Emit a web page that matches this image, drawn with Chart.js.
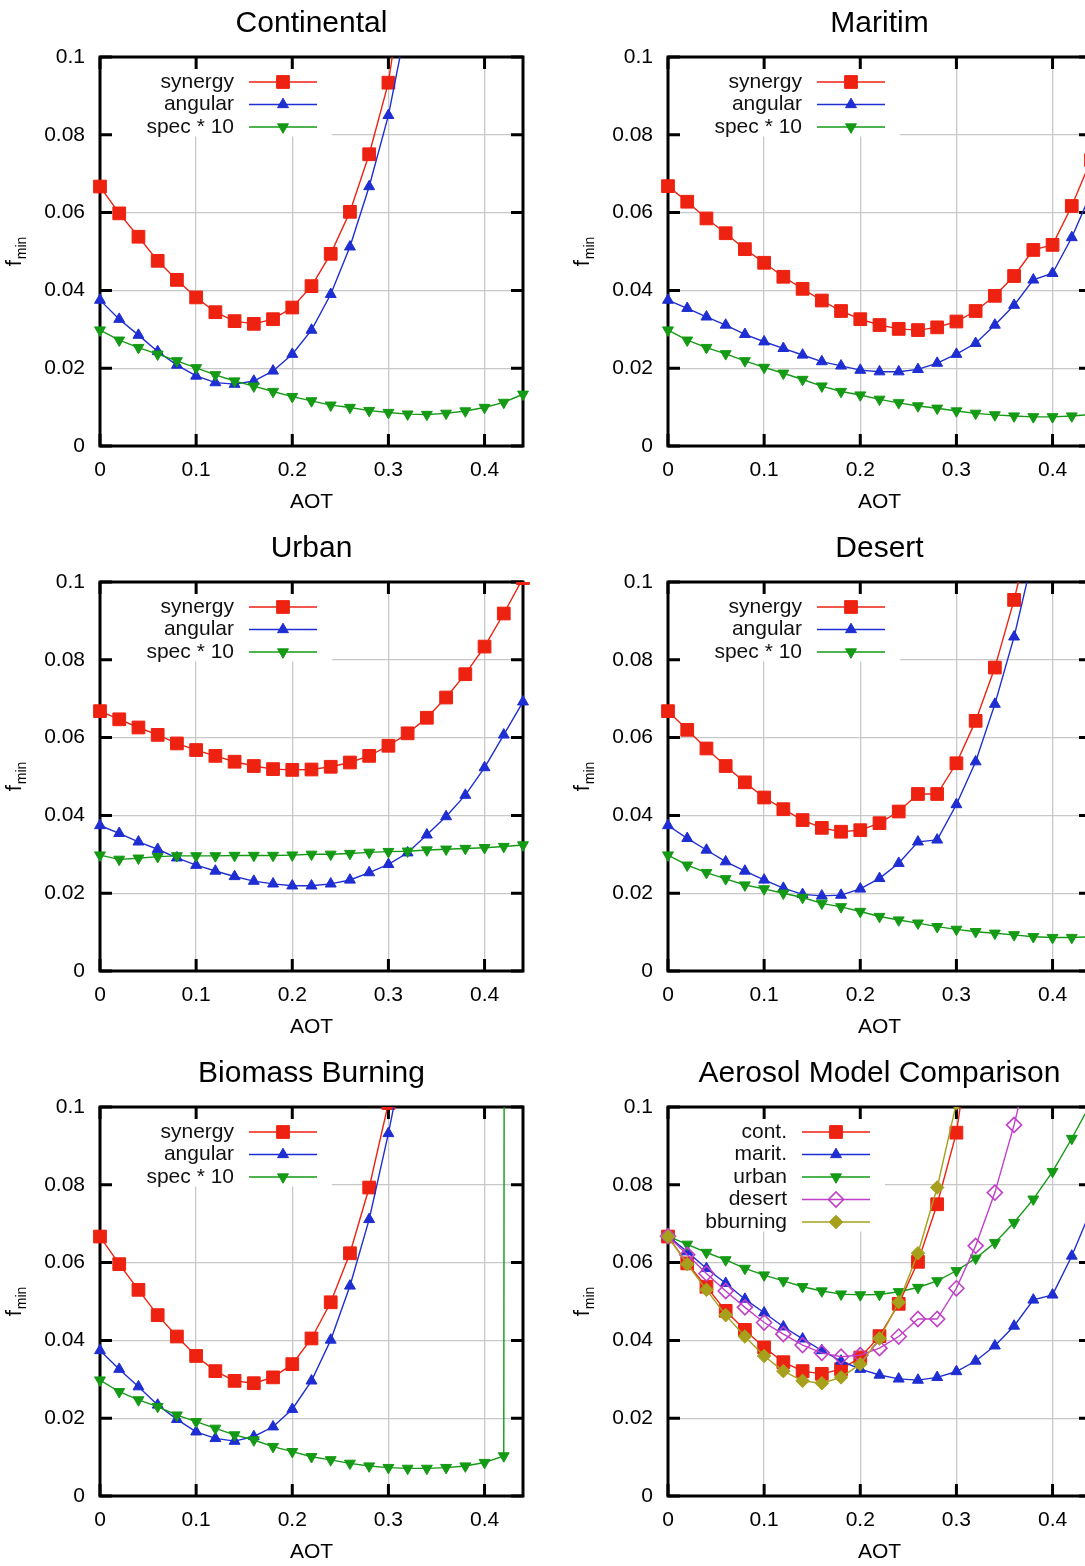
<!DOCTYPE html>
<html>
<head>
<meta charset="utf-8">
<title>f_min vs AOT</title>
<script src="https://cdn.jsdelivr.net/npm/chart.js@4.4.1/dist/chart.umd.min.js"></script>
<style>
  html, body { margin: 0; padding: 0; background: #fff; overflow: hidden; }
  #page { position: relative; width: 1085px; height: 1566px; overflow: hidden; }
  .panel { position: absolute; width: 568px; height: 525px; }
</style>
</head>
<body>
<div id="page"></div>
<script>
/* ============================================================
   DATA
============================================================ */
const aot = [0, 0.02, 0.04, 0.06, 0.08, 0.1, 0.12, 0.14, 0.16, 0.18, 0.2, 0.22,
             0.24, 0.26, 0.28, 0.3, 0.32, 0.34, 0.36, 0.38, 0.4, 0.42, 0.44];
const xTicks = [0, 0.1, 0.2, 0.3, 0.4];
const yTicks = [0, 0.02, 0.04, 0.06, 0.08, 0.1];

// Continental
const contSyn  = [0.0667, 0.0598, 0.0538, 0.0476, 0.0427, 0.0382, 0.0344, 0.0321, 0.0314, 0.0326, 0.0356, 0.0411, 0.0494, 0.0602, 0.0750, 0.0934, 0.127];
const contAng  = [0.0375, 0.0326, 0.0285, 0.0243, 0.0208, 0.0180, 0.0163, 0.0159, 0.0167, 0.0193, 0.0236, 0.0298, 0.0390, 0.0512, 0.0667, 0.0850, 0.110];
const contSpec = [0.0298, 0.0272, 0.0253, 0.0236, 0.0219, 0.0201, 0.0183, 0.0167, 0.0154, 0.0140, 0.0127, 0.0116, 0.0105, 0.0099, 0.0091, 0.0086, 0.0082, 0.0081, 0.0084, 0.0090, 0.0099, 0.0112, 0.0133];

// Maritim
const maritSyn  = [0.0668, 0.0628, 0.0585, 0.0547, 0.0506, 0.0471, 0.0435, 0.0404, 0.0374, 0.0347, 0.0326, 0.0311, 0.0301, 0.0298, 0.0305, 0.0320, 0.0347, 0.0386, 0.0437, 0.0504, 0.0517, 0.0617, 0.0735];
const maritAng  = [0.0375, 0.0354, 0.0332, 0.0311, 0.0287, 0.0268, 0.0251, 0.0234, 0.0217, 0.0206, 0.0195, 0.0191, 0.0191, 0.0197, 0.0213, 0.0236, 0.0264, 0.0311, 0.0362, 0.0427, 0.0444, 0.0536, 0.0650];
const maritSpec = [0.0298, 0.0272, 0.0253, 0.0237, 0.0219, 0.0202, 0.0187, 0.0171, 0.0154, 0.0140, 0.0131, 0.0120, 0.0111, 0.0103, 0.0097, 0.0090, 0.0084, 0.0080, 0.0077, 0.0075, 0.0075, 0.0077, 0.0081];

// Urban
const urbanSyn  = [0.0668, 0.0647, 0.0626, 0.0607, 0.0585, 0.0568, 0.0553, 0.0538, 0.0527, 0.0519, 0.0517, 0.0518, 0.0525, 0.0536, 0.0553, 0.0579, 0.0611, 0.0651, 0.0703, 0.0763, 0.0834, 0.0919, 0.101];
const urbanAng  = [0.0374, 0.0354, 0.0332, 0.0313, 0.0291, 0.0272, 0.0257, 0.0243, 0.0231, 0.0224, 0.0219, 0.0219, 0.0224, 0.0234, 0.0253, 0.0274, 0.0304, 0.0350, 0.0397, 0.0452, 0.0523, 0.0607, 0.0692];
const urbanSpec = [0.0298, 0.0287, 0.0290, 0.0294, 0.0296, 0.0296, 0.0296, 0.0297, 0.0297, 0.0297, 0.0298, 0.0300, 0.0300, 0.0302, 0.0305, 0.0307, 0.0308, 0.0311, 0.0313, 0.0315, 0.0317, 0.0320, 0.0324];

// Desert
const desertSyn  = [0.0668, 0.0620, 0.0572, 0.0527, 0.0485, 0.0446, 0.0416, 0.0388, 0.0368, 0.0358, 0.0362, 0.0380, 0.0410, 0.0455, 0.0455, 0.0534, 0.0643, 0.0780, 0.0954, 0.116];
const desertAng  = [0.0374, 0.0341, 0.0311, 0.0281, 0.0257, 0.0234, 0.0213, 0.0197, 0.0193, 0.0195, 0.0211, 0.0238, 0.0277, 0.0332, 0.0337, 0.0428, 0.0538, 0.0686, 0.0859, 0.107];
const desertSpec = [0.0298, 0.0272, 0.0253, 0.0237, 0.0221, 0.0211, 0.0200, 0.0189, 0.0174, 0.0165, 0.0153, 0.0140, 0.0131, 0.0123, 0.0114, 0.0107, 0.0101, 0.0097, 0.0093, 0.0088, 0.0086, 0.0086, 0.0088];

// Biomass Burning
const bbSyn  = [0.0667, 0.0596, 0.0530, 0.0465, 0.0410, 0.0360, 0.0321, 0.0296, 0.0290, 0.0305, 0.0339, 0.0405, 0.0498, 0.0624, 0.0793, 0.101, 0.125];
const bbAng  = [0.0374, 0.0326, 0.0281, 0.0234, 0.0197, 0.0165, 0.0148, 0.0141, 0.0153, 0.0178, 0.0223, 0.0296, 0.0401, 0.0540, 0.0711, 0.0932, 0.118];
const bbSpec = [0.0298, 0.0268, 0.0247, 0.0230, 0.0208, 0.0191, 0.0174, 0.0157, 0.0144, 0.0127, 0.0114, 0.0101, 0.0093, 0.0084, 0.0077, 0.0073, 0.0071, 0.0071, 0.0073, 0.0077, 0.0086, 0.0103, 5];

/* ============================================================
   STYLES
============================================================ */
const FONT = "'Liberation Sans', Arial, Helvetica, sans-serif";
Chart.defaults.font.family = FONT;
Chart.defaults.color = "#000";

const RED = "#ee2211";
const BLUE = "#1e2ed2";
const GREEN = "#149a14";
const MAGENTA = "#c040c8";
const OLIVE = "#a6a01c";

const square = { pointStyle: "rect", radius: 9, rotation: 0, filled: true };
const triUp = { pointStyle: "triangle", radius: 6.3, rotation: 0, filled: true };
const triDown = { pointStyle: "triangle", radius: 6.3, rotation: 180, filled: true };
const diamondOpen = { pointStyle: "rectRot", radius: 7.5, rotation: 0, filled: false };
const diamond = { pointStyle: "rectRot", radius: 6.8, rotation: 0, filled: true };

const panels = [
  { title: "Continental", keyRight: 134, series: [
    ["synergy", contSyn, RED, square], ["angular", contAng, BLUE, triUp], ["spec * 10", contSpec, GREEN, triDown]] },
  { title: "Maritim", keyRight: 134, series: [
    ["synergy", maritSyn, RED, square], ["angular", maritAng, BLUE, triUp], ["spec * 10", maritSpec, GREEN, triDown]] },
  { title: "Urban", keyRight: 134, series: [
    ["synergy", urbanSyn, RED, square], ["angular", urbanAng, BLUE, triUp], ["spec * 10", urbanSpec, GREEN, triDown]] },
  { title: "Desert", keyRight: 134, series: [
    ["synergy", desertSyn, RED, square], ["angular", desertAng, BLUE, triUp], ["spec * 10", desertSpec, GREEN, triDown]] },
  { title: "Biomass Burning", keyRight: 134, series: [
    ["synergy", bbSyn, RED, square], ["angular", bbAng, BLUE, triUp], ["spec * 10", bbSpec, GREEN, triDown]] },
  { title: "Aerosol Model Comparison", keyRight: 119, series: [
    ["cont.", contSyn, RED, square], ["marit.", maritSyn, BLUE, triUp], ["urban", urbanSyn, GREEN, triDown],
    ["desert", desertSyn, MAGENTA, diamondOpen], ["bburning", bbSyn, OLIVE, diamond]] },
];

/* ============================================================
   PLUGINS: gnuplot-like key, frame with inward ticks, f_min label
============================================================ */
const gnuplotFrame = {
  id: "gnuplotFrame",
  beforeDatasetsDraw(chart, args, opts) {
    const { ctx, chartArea: a, scales } = chart;
    const sets = chart.data.datasets;
    const tr = a.left + opts.keyRight;
    ctx.save();

    // white box behind the key
    ctx.fillStyle = "#fff";
    ctx.fillRect(a.left, a.top, opts.keyRight + 98, 12 + sets.length * 22.5);

    // border + mirrored inward ticks
    ctx.strokeStyle = "#000";
    ctx.lineWidth = 3;
    const len = 12;
    ctx.beginPath();
    scales.y.ticks.forEach((t) => {
      const py = scales.y.getPixelForValue(t.value);
      ctx.moveTo(a.left, py); ctx.lineTo(a.left + len, py);
      ctx.moveTo(a.right, py); ctx.lineTo(a.right - len, py);
    });
    scales.x.ticks.forEach((t) => {
      const px = scales.x.getPixelForValue(t.value);
      ctx.moveTo(px, a.bottom); ctx.lineTo(px, a.bottom - len);
      ctx.moveTo(px, a.top); ctx.lineTo(px, a.top + len);
    });
    ctx.stroke();
    ctx.strokeRect(a.left, a.top, a.right - a.left, a.bottom - a.top);

    // key entries
    ctx.font = "21px " + FONT;
    ctx.textAlign = "right";
    ctx.textBaseline = "middle";
    sets.forEach((ds, i) => {
      const y = a.top + 25 + i * 22.5;
      ctx.fillStyle = "#111";
      ctx.fillText(ds.label, tr, y);
      ctx.strokeStyle = ds.borderColor;
      ctx.lineWidth = ds.borderWidth;
      ctx.beginPath();
      ctx.moveTo(tr + 15, y);
      ctx.lineTo(tr + 83, y);
      ctx.stroke();
      ctx.fillStyle = ds.pointBackgroundColor;
      ctx.strokeStyle = ds.pointBorderColor;
      ctx.lineWidth = ds.pointBorderWidth;
      Chart.helpers.drawPoint(ctx, {
        pointStyle: ds.pointStyle,
        rotation: ds.pointRotation,
        radius: ds.pointRadius,
        borderWidth: ds.pointBorderWidth,
      }, tr + 49, y);
    });
    ctx.restore();
  },
};

const yLabel = {
  id: "yLabel",
  afterDraw(chart) {
    const { ctx, chartArea: a } = chart;
    ctx.save();
    ctx.translate(21, (a.top + a.bottom) / 2);
    ctx.rotate(-Math.PI / 2);
    ctx.fillStyle = "#000";
    ctx.textAlign = "left";
    ctx.textBaseline = "alphabetic";
    ctx.font = "22px " + FONT;
    const fw = ctx.measureText("f").width;
    ctx.font = "14px " + FONT;
    const sw = ctx.measureText("min").width;
    const x0 = -(fw + sw + 1) / 2;
    ctx.font = "22px " + FONT;
    ctx.fillText("f", x0, 0);
    ctx.font = "14px " + FONT;
    ctx.fillText("min", x0 + fw + 1, 5);
    ctx.restore();
  },
};

/* ============================================================
   BUILD THE SIX PANELS
============================================================ */
const page = document.getElementById("page");
const fmt = (v) => String(+Number(v).toFixed(2));

panels.forEach((p, n) => {
  const div = document.createElement("div");
  div.className = "panel";
  div.style.left = (n % 2) * 568 + "px";
  div.style.top = Math.floor(n / 2) * 525 + "px";
  const canvas = document.createElement("canvas");
  canvas.width = 568;
  canvas.height = 525;
  div.appendChild(canvas);
  page.appendChild(div);

  const datasets = p.series.map(([label, vals, color, m], i) => ({
    label,
    data: vals.map((y, k) => ({ x: aot[k], y })),
    borderColor: color,
    backgroundColor: color,
    borderWidth: 1.4,
    pointStyle: m.pointStyle,
    pointRadius: m.radius,
    pointRotation: m.rotation,
    pointBackgroundColor: m.filled ? color : "rgba(255,255,255,0)",
    pointBorderColor: color,
    pointBorderWidth: m.filled ? 1 : 1.6,
    tension: 0,
    clip: { left: 12, right: 12, top: 0, bottom: 12 },
    order: -i,
  }));

  new Chart(canvas, {
    type: "line",
    data: { datasets },
    plugins: [gnuplotFrame, yLabel],
    options: {
      responsive: false,
      animation: false,
      events: [],
      layout: { padding: { left: 0, right: 45, top: 0, bottom: 0 } },
      scales: {
        x: {
          type: "linear",
          min: 0,
          max: 0.44,
          afterBuildTicks: (s) => { s.ticks = xTicks.map((v) => ({ value: v })); },
          afterFit: (s) => { s.height = 79; },
          ticks: { callback: fmt, font: { size: 21 }, color: "#000", padding: 12, autoSkip: false, maxRotation: 0, includeBounds: false },
          grid: { color: "#c8c8c8", lineWidth: 1.3, drawTicks: false },
          border: { display: false },
          title: { display: true, text: "AOT", font: { size: 21 }, color: "#000", padding: { top: 0, bottom: 10 } },
        },
        y: {
          type: "linear",
          min: 0,
          max: 0.1,
          afterBuildTicks: (s) => { s.ticks = yTicks.map((v) => ({ value: v })); },
          afterFit: (s) => { s.width = 100; },
          ticks: { callback: fmt, font: { size: 21 }, color: "#000", padding: 15, autoSkip: false },
          grid: { color: "#c8c8c8", lineWidth: 1.3, drawTicks: false },
          border: { display: false },
        },
      },
      plugins: {
        legend: { display: false },
        tooltip: { enabled: false },
        title: {
          display: true,
          text: p.title,
          fullSize: false,
          font: { size: 30, weight: "normal" },
          color: "#000",
          padding: { top: 6, bottom: 15 },
        },
        gnuplotFrame: { keyRight: p.keyRight },
      },
    },
  });
});
</script>
</body>
</html>
